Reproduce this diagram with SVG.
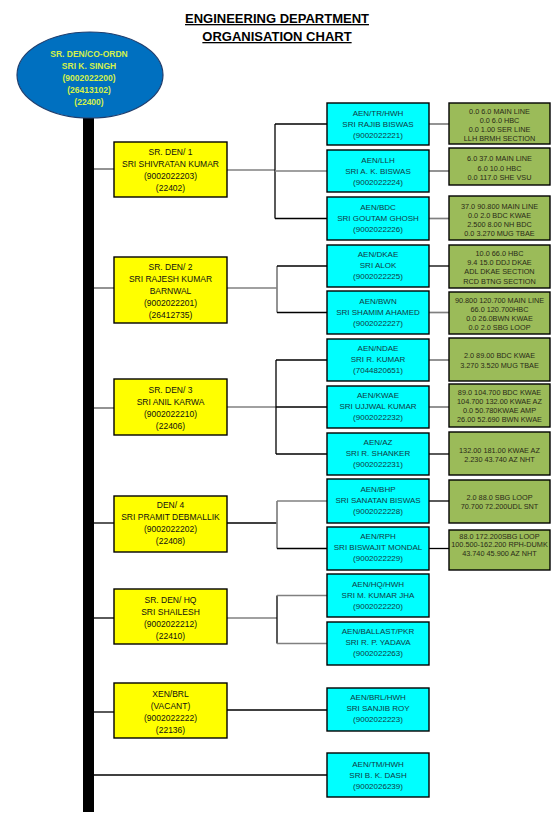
<svg xmlns="http://www.w3.org/2000/svg" width="560" height="818" viewBox="0 0 560 818">
<style>
text{font-family:"Liberation Sans",Arial,sans-serif;text-anchor:middle}
.t{font-weight:bold;font-size:13px;fill:#000;text-decoration:underline}
.e{font-weight:bold;font-size:8.5px;fill:#d4f04a}
.y rect{fill:#ffff00;stroke:#000;stroke-width:1.4}
.y text{font-size:8.5px;fill:#111}
.c rect{fill:#00ffff;stroke:#000;stroke-width:1.4}
.c text{font-size:8px;fill:#103a44}
.g rect{fill:#9bbb59;stroke:#000;stroke-width:1.4}
.g text{font-size:7.3px;fill:#2a2a18}
.k{stroke:#000;stroke-width:1.3;fill:none}
.s{stroke:#808080;stroke-width:1.7;fill:none}
</style>
<rect width="560" height="818" fill="#fff"/>
<g id="title">
<text class="t" x="277" y="23">ENGINEERING DEPARTMENT</text>
<text class="t" x="277" y="41">ORGANISATION CHART</text>
</g>
<g id="connectors">
<rect x="83" y="118" width="11" height="694" fill="#000"/>
<line class="s" x1="94" y1="169" x2="114" y2="169"/>
<line class="s" x1="94" y1="288" x2="114" y2="288"/>
<line class="s" x1="94" y1="408" x2="114" y2="408"/>
<line class="k" x1="94" y1="523" x2="114" y2="523"/>
<line class="k" x1="94" y1="618" x2="114" y2="618"/>
<line class="k" x1="94" y1="712" x2="114" y2="712"/>
<line class="k" x1="94" y1="775" x2="327" y2="775"/>
<line class="s" x1="227" y1="170" x2="275" y2="170"/>
<line class="k" x1="275" y1="124" x2="275" y2="218.5"/>
<line class="k" x1="275" y1="124" x2="327" y2="124"/>
<line class="s" x1="275" y1="171" x2="327" y2="171"/>
<line class="k" x1="275" y1="218.5" x2="327" y2="218.5"/>
<line class="s" x1="227" y1="288" x2="277" y2="288"/>
<line class="s" x1="277" y1="266" x2="277" y2="312.5"/>
<line class="k" x1="277" y1="266" x2="327" y2="266"/>
<line class="k" x1="277" y1="312.5" x2="327" y2="312.5"/>
<line class="s" x1="227" y1="407" x2="276" y2="407"/>
<line class="k" x1="276" y1="360" x2="276" y2="454"/>
<line class="k" x1="276" y1="360" x2="327" y2="360"/>
<line class="k" x1="276" y1="407" x2="327" y2="407"/>
<line class="k" x1="276" y1="454" x2="327" y2="454"/>
<line class="k" x1="227" y1="523" x2="277" y2="523"/>
<line class="s" x1="277" y1="501" x2="277" y2="548.5"/>
<line class="s" x1="277" y1="501" x2="327" y2="501"/>
<line class="k" x1="277" y1="548.5" x2="327" y2="548.5"/>
<line class="s" x1="227" y1="618" x2="277" y2="618"/>
<line class="k" x1="277" y1="595.5" x2="277" y2="643.5"/>
<line class="s" x1="277" y1="595.5" x2="327" y2="595.5"/>
<line class="s" x1="277" y1="643.5" x2="327" y2="643.5"/>
<line class="k" x1="227" y1="710" x2="327" y2="710"/>
<line class="s" x1="429" y1="124" x2="449" y2="124"/>
<line class="s" x1="429" y1="171" x2="449" y2="171"/>
<line class="s" x1="429" y1="218.5" x2="449" y2="218.5"/>
<line class="k" x1="429" y1="266" x2="449" y2="266"/>
<line class="s" x1="429" y1="312.5" x2="449" y2="312.5"/>
<line class="s" x1="429" y1="360" x2="449" y2="360"/>
<line class="s" x1="429" y1="407" x2="449" y2="407"/>
<line class="k" x1="429" y1="454" x2="449" y2="454"/>
<line class="k" x1="429" y1="501" x2="449" y2="501"/>
<line class="k" x1="429" y1="548.5" x2="449" y2="548.5"/>
</g>
<g id="coordn">
<ellipse cx="90" cy="75" rx="73" ry="43" fill="#0070c0" stroke="#1f3f6f" stroke-width="1.2"/>
<text class="e" x="89" y="57">SR. DEN/CO-ORDN</text>
<text class="e" x="89" y="69">SRI K. SINGH</text>
<text class="e" x="89" y="81" font-weight="normal">(9002022200)</text>
<text class="e" x="89" y="93" font-weight="normal">(26413102)</text>
<text class="e" x="89" y="105" font-weight="normal">(22400)</text>
</g>
<g id="den1" class="y"><rect x="114" y="142" width="113" height="55"/>
<text x="170.5" y="155">SR. DEN/ 1</text><text x="170.5" y="167">SRI SHIVRATAN KUMAR</text><text x="170.5" y="179">(9002022203)</text><text x="170.5" y="191">(22402)</text></g>
<g id="den2" class="y"><rect x="114" y="257" width="113" height="66"/>
<text x="170.5" y="270">SR. DEN/ 2</text><text x="170.5" y="282">SRI RAJESH KUMAR</text><text x="170.5" y="294">BARNWAL</text><text x="170.5" y="306">(9002022201)</text><text x="170.5" y="318">(26412735)</text></g>
<g id="den3" class="y"><rect x="114" y="379" width="113" height="56"/>
<text x="170.5" y="393">SR. DEN/ 3</text><text x="170.5" y="405">SRI ANIL KARWA</text><text x="170.5" y="417">(9002022210)</text><text x="170.5" y="429">(22406)</text></g>
<g id="den4" class="y"><rect x="114" y="496" width="113" height="56"/>
<text x="170.5" y="508">DEN/ 4</text><text x="170.5" y="520">SRI PRAMIT DEBMALLIK</text><text x="170.5" y="532">(9002022202)</text><text x="170.5" y="544">(22408)</text></g>
<g id="denhq" class="y"><rect x="114" y="589" width="113" height="55"/>
<text x="170.5" y="603">SR. DEN/ HQ</text><text x="170.5" y="615">SRI SHAILESH</text><text x="170.5" y="627">(9002022212)</text><text x="170.5" y="639">(22410)</text></g>
<g id="xenbrl" class="y"><rect x="114" y="683" width="113" height="55"/>
<text x="170.5" y="697">XEN/BRL</text><text x="170.5" y="709">(VACANT)</text><text x="170.5" y="721">(9002022222)</text><text x="170.5" y="733">(22136)</text></g>
<g id="aen1" class="c"><rect x="327" y="103" width="102" height="42"/>
<text x="378" y="116">AEN/TR/HWH</text><text x="378" y="127">SRI RAJIB BISWAS</text><text x="378" y="138">(9002022221)</text></g>
<g id="aen2" class="c"><rect x="327" y="150" width="102" height="42"/>
<text x="378" y="163">AEN/LLH</text><text x="378" y="174">SRI A. K. BISWAS</text><text x="378" y="185">(9002022224)</text></g>
<g id="aen3" class="c"><rect x="327" y="197" width="102" height="43"/>
<text x="378" y="210">AEN/BDC</text><text x="378" y="221">SRI GOUTAM GHOSH</text><text x="378" y="232">(9002022226)</text></g>
<g id="aen4" class="c"><rect x="327" y="245" width="102" height="42"/>
<text x="378" y="257">AEN/DKAE</text><text x="378" y="268">SRI ALOK</text><text x="378" y="279">(9002022225)</text></g>
<g id="aen5" class="c"><rect x="327" y="291" width="102" height="43"/>
<text x="378" y="304">AEN/BWN</text><text x="378" y="315">SRI SHAMIM AHAMED</text><text x="378" y="326">(9002022227)</text></g>
<g id="aen6" class="c"><rect x="327" y="339" width="102" height="42"/>
<text x="378" y="351">AEN/NDAE</text><text x="378" y="362">SRI R. KUMAR</text><text x="378" y="373">(7044820651)</text></g>
<g id="aen7" class="c"><rect x="327" y="386" width="102" height="42"/>
<text x="378" y="398">AEN/KWAE</text><text x="378" y="409">SRI UJJWAL KUMAR</text><text x="378" y="420">(9002022232)</text></g>
<g id="aen8" class="c"><rect x="327" y="433" width="102" height="42"/>
<text x="378" y="445">AEN/AZ</text><text x="378" y="456">SRI R. SHANKER</text><text x="378" y="467">(9002022231)</text></g>
<g id="aen9" class="c"><rect x="327" y="479" width="102" height="44"/>
<text x="378" y="492">AEN/BHP</text><text x="378" y="503">SRI SANATAN BISWAS</text><text x="378" y="514">(9002022228)</text></g>
<g id="aen10" class="c"><rect x="327" y="527" width="102" height="43"/>
<text x="378" y="539">AEN/RPH</text><text x="378" y="550">SRI BISWAJIT MONDAL</text><text x="378" y="561">(9002022229)</text></g>
<g id="aen11" class="c"><rect x="327" y="574" width="102" height="43"/>
<text x="378" y="587">AEN/HQ/HWH</text><text x="378" y="598">SRI M. KUMAR JHA</text><text x="378" y="609">(9002022220)</text></g>
<g id="aen12" class="c"><rect x="327" y="622" width="102" height="43"/>
<text x="378" y="634">AEN/BALLAST/PKR</text><text x="378" y="645">SRI R. P. YADAVA</text><text x="378" y="656">(9002022263)</text></g>
<g id="aen13" class="c"><rect x="327" y="688" width="102" height="43"/>
<text x="378" y="700">AEN/BRL/HWH</text><text x="378" y="711">SRI SANJIB ROY</text><text x="378" y="722">(9002022223)</text></g>
<g id="aen14" class="c"><rect x="327" y="753" width="102" height="44"/>
<text x="378" y="767">AEN/TM/HWH</text><text x="378" y="778">SRI B. K. DASH</text><text x="378" y="789">(9002026239)</text></g>
<g id="sec1" class="g"><rect x="449" y="103" width="101" height="41"/>
<text x="499.5" y="113.5">0.0 6.0 MAIN LINE</text><text x="499.5" y="122.5" fill="#6a2418">0.0 6.0 HBC</text><text x="499.5" y="131.5">0.0 1.00 SER LINE</text><text x="499.5" y="140.5">LLH BRMH SECTION</text></g>
<g id="sec2" class="g"><rect x="449" y="148" width="101" height="37"/>
<text x="499.5" y="161">6.0 37.0 MAIN LINE</text><text x="499.5" y="170.5">6.0 10.0 HBC</text><text x="499.5" y="180">0.0 117.0 SHE VSU</text></g>
<g id="sec3" class="g"><rect x="449" y="196" width="101" height="44"/>
<text x="499.5" y="208.5">37.0 90.800 MAIN LINE</text><text x="499.5" y="218">0.0 2.0 BDC KWAE</text><text x="499.5" y="227">2.500 8.00 NH BDC</text><text x="499.5" y="236">0.0 3.270 MUG TBAE</text></g>
<g id="sec4" class="g"><rect x="449" y="245" width="101" height="43"/>
<text x="499.5" y="255.5">10.0 66.0 HBC</text><text x="499.5" y="264.5">9.4 15.0 DDJ DKAE</text><text x="499.5" y="274">ADL DKAE SECTION</text><text x="499.5" y="283.5">RCD BTNG SECTION</text></g>
<g id="sec5" class="g"><rect x="449" y="292" width="101" height="42"/>
<text x="499.5" y="303" font-size="6.9">90.800 120.700 MAIN LINE</text><text x="499.5" y="312">66.0 120.700HBC</text><text x="499.5" y="321">0.0 26.0BWN KWAE</text><text x="499.5" y="330">0.0 2.0 SBG LOOP</text></g>
<g id="sec6" class="g"><rect x="449" y="338" width="101" height="43"/>
<text x="499.5" y="358">2.0 89.00 BDC KWAE</text><text x="499.5" y="367.5">3.270 3.520 MUG TBAE</text></g>
<g id="sec7" class="g"><rect x="449" y="384" width="101" height="43"/>
<text x="499.5" y="394.5">89.0 104.700 BDC KWAE</text><text x="499.5" y="403.5" font-size="7">104.700 132.00 KWAE AZ</text><text x="499.5" y="412.5">0.0 50.780KWAE AMP</text><text x="499.5" y="421.5" font-size="7">26.00 52.690 BWN KWAE</text></g>
<g id="sec8" class="g"><rect x="449" y="432" width="101" height="43"/>
<text x="499.5" y="452.5">132.00 181.00 KWAE AZ</text><text x="499.5" y="461.5">2.230 43.740 AZ NHT</text></g>
<g id="sec9" class="g"><rect x="449" y="480" width="101" height="43"/>
<text x="499.5" y="499.5">2.0 88.0 SBG LOOP</text><text x="499.5" y="509">70.700 72.200UDL SNT</text></g>
<g id="sec10" class="g"><rect x="449" y="530" width="101" height="40"/>
<text x="499.5" y="538.5">88.0 172.200SBG LOOP</text><text x="499.5" y="546.5" font-size="5.8" fill="#7a4a20">100.500-162.200 RPH-DUMK</text><text x="499.5" y="555.5">43.740 45.900 AZ NHT</text></g>
</svg>
